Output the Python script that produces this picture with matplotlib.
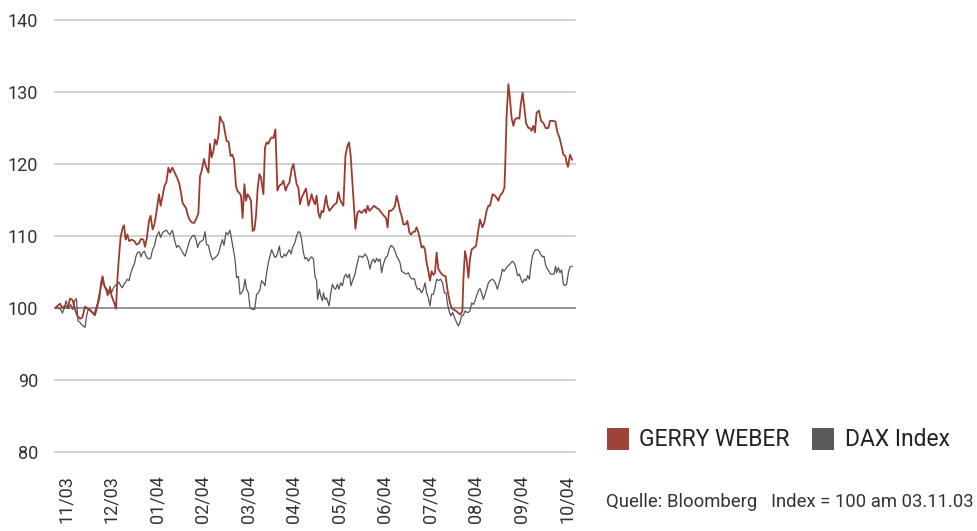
import matplotlib
matplotlib.use("Agg")
import matplotlib.pyplot as plt
from matplotlib.patches import Rectangle
import numpy as np

# ---- data (trading days since 03.11.03, index value) ----
gw_days = [0, 2.5, 3.7, 5, 6.3, 7.5, 8.8, 10, 11.2, 12.5, 13.7, 15, 16.2, 17.5, 18.8, 20, 21.2, 22.2, 23, 23.8,
           24.7, 25.8, 26.7, 27.5, 28.3, 29.5, 30.5, 31.2, 32, 32.8, 33.7, 34.5, 35.3, 36.2, 37, 38.3, 39.7, 40.8,
           42, 43, 44.2, 45, 45.8, 47, 47.8, 48.8, 49.7, 50.8, 52, 52.8, 53.8, 54.8, 55.7, 56.7, 57.5, 58.7, 60,
           61.2, 62.2, 63, 63.8, 64.7, 65.5, 66.3, 67.2, 68.3, 69.5, 70.5, 71.7, 72.5, 73.3, 74.5, 75.3, 76.7,
           77.5, 78.3, 79.2, 80, 80.8, 81.7, 82.5, 83.3, 84.2, 85, 85.8, 86.8, 87.8, 88.7, 89.5, 90.5, 91.3, 92.2,
           93, 93.8, 94.7, 95.5, 96.3, 97.2, 98, 98.8, 99.7, 100.5, 101.3, 102.2, 103, 104.2, 105, 105.8, 106.7,
           107.5, 108.3, 109.2, 110.2, 111.2, 112.2, 113.3, 114.2, 115.3, 116.2, 117.2, 118.3, 119.2, 120, 120.8,
           121.7, 122.5,
           123.3, 124.5, 125.5, 126.7, 127.5, 128.3, 129.2, 130, 130.8, 131.7, 132.5, 133.3, 134.2, 135.5, 136.3,
           137.2, 138.3, 139.5, 140.8, 141.7, 142.5, 143.3, 144.2, 145.2, 146.2, 147, 147.8, 148.7, 149.5, 150.2,
           151.2, 152.2, 153.3, 154.2, 155, 155.5, 156.3, 157.2, 158.3, 159.5, 160.8, 162, 163.3, 164.5, 165.5,
           166.3, 167, 168, 169.2, 170, 170.8, 171.7, 172.5, 173.3, 174.2, 175.3, 176.2, 177.2, 178, 179.2, 180,
           180.8, 181.7, 182.5, 183.3, 184.2, 185, 185.8, 186.7, 187.5, 188.3, 189.2, 190, 190.8, 191.7, 192.8,
           194.2, 195.3, 196.3, 197.5, 198.3, 199.2, 200.5, 201.7, 202.8, 203.7, 204.2, 205, 205.8, 206.7, 207.5,
           208.3, 209.5, 210.5, 211.7, 212.5, 213.7, 214.7, 215.8, 216.7, 217.5, 218.8, 220, 220.8, 221.7, 222.5,
           223.7, 224.7, 225.2, 225.8, 226.7, 227.5, 228.3, 229.2, 230, 231.2, 232.2, 232.8, 233.8, 234.7, 235.5,
           236.7, 237.5, 238.3, 239.2, 240, 240.8, 242, 243, 244.2, 245.3, 246.7, 247.5, 248.8, 250.2, 251.2,
           252.2, 253, 254.2, 255.2, 255.8, 256.5, 257.5, 258.5]
gw_vals = [100, 100.6, 100, 100.3, 100, 101.3, 101.1, 99.8, 98.9, 98.5, 98.7, 100.2, 99.9, 99.7, 99.3, 99.0, 100.3,
           101.4, 103.5, 104.4, 103.1, 102.6, 101.9, 102.7, 101.7, 100.8, 99.9, 104, 107.2, 109.8, 111, 111.5,
           109.5, 110.2, 109.3, 109.5, 109.3, 108.8, 109.0, 109.6, 109.5, 108.5, 109.5, 112.1, 112.8, 110.9, 111.6,
           113.5, 115.8, 114.2, 115.6, 117.0, 117.5, 119.5, 118.8, 119.5, 118.7, 118, 117.2, 116, 114.6, 114.2,
           113.9, 113, 112.3, 111.9, 111.8, 112.3, 113.2, 118.3, 119, 120.7, 119.8, 118.8, 122.8, 120.9, 121.8,
           123.4, 122.7, 123.9, 126.6, 126, 125.7, 124.4, 123.2, 123.1, 121.1, 121.3, 120.6, 116.9, 116.2, 116,
           115.6, 112.5, 117.2, 114.9, 115.8, 115.4, 114.9, 110.7, 110.9, 112.8, 116.5, 118.6, 118.1, 115.8, 122.3,
           123, 122.8, 123.4, 123.7, 123.6, 124.8, 116.3, 117, 117.2, 117.7, 116.3, 117, 117.4, 119.3, 120, 118.6,
           117.2, 116.7, 114.4,
           115.3, 116, 116.6, 114.2, 114.9, 115.8, 114.9, 114.4, 115.6, 113.2, 112.5, 113.5, 113.3, 115.6, 114.2,
           113.5, 113.9, 114.3, 114.6, 116.1, 115.1, 114.6, 114.2, 121.1, 122.5, 123, 121.3, 117.4, 113.7, 111,
           113.2, 113.5, 113.2, 113.5, 113.7, 113.2, 114.2, 113.5, 113.8, 114.2, 113.9, 113.7, 113.2, 112.8, 112.5,
           111.2, 113.5, 113.5, 113.8, 114.2, 115.6, 114.6, 113.5, 112.8, 111.6, 111.6, 112.1, 110.5, 110.2, 110.6,
           110.6, 111.2, 110.5, 109.5, 108.4, 108.6, 108.1, 106.3, 105.1, 103.8, 105.1, 104.6, 104.9, 107.7, 105.4,
           104.9, 104.5, 104.4, 102.4, 100.7, 100, 99.8, 99.6, 99.3, 99.1, 99.6, 104, 107.9, 106.8, 104.2, 106.8,
           108.1, 108.4, 108.6, 110.9, 112.3, 111.2, 111.9, 113.5, 114.2, 114.2, 115.8, 115.6, 115.3, 114.9, 115.6,
           116, 116.7, 120.6, 126.7, 131.1, 129, 126.4, 125.3, 126.2, 126.4, 126.3, 128.1, 129.9, 127.8, 125.7,
           125, 125, 124.6, 125.3, 124.4, 127.1, 127.4, 126, 125.7, 125, 125, 126, 126, 125.9, 124.4,
           123.7, 122.8, 121.3, 121.1, 120.2, 119.6, 121.3, 120.6]

dax_days = [0, 1.7, 2.8, 3.7, 4.7, 5.5, 6.7, 7.8, 8.8, 9.8, 10.7, 11.5, 12.5, 13.3, 14.2, 15, 15.8, 16.7, 17.5, 18.7,
            19.5, 20.5, 21.3, 22.2, 22.8, 23.7, 24.5, 25.5, 26.3, 27.5, 28.3, 29.2, 30, 31.2, 32, 32.8, 33.7, 34.5,
            35.3, 36.2, 37, 38, 38.8, 39.7, 40.5, 41.3, 42.2, 43, 43.8, 44.7, 45.5, 46.7, 47.8, 48.8, 49.7, 50.8,
            52, 52.8, 53.8, 55, 55.8, 56.7, 57.5, 58.7, 59.7, 60.8, 61.7, 62.5, 63.8, 65, 65.8, 66.7, 67.5, 68.7,
            69.7, 70.5, 71.3, 72.2, 73.3, 74.2, 75, 75.8, 76.7, 77.5, 78.7, 79.7, 80.8, 81.7, 82.5, 83.7, 84.5,
            85.5, 86.5, 87.5, 88.3, 89.2, 90, 90.8, 91.7, 92.5, 93.3, 94.2, 95, 95.8, 96.7, 97.5, 98.7, 99.8, 100.8,
            101.7, 102.5, 103.3, 104.2, 105, 105.8, 106.7, 107.5, 108.3, 109.2, 110, 110.8, 112.2, 112.8, 113.8,
            114.7, 115.5, 116.3, 117.2, 118, 118.8, 120, 120.8, 121.7, 122.5,
            123.3, 124.2, 125, 125.8, 126.7, 127.5, 128.3, 129.2, 130, 130.8, 131.3, 132.2, 132.8, 133.7, 134.2,
            135, 135.8, 137, 137.8, 138.7, 139.5, 140.3, 141.2, 142, 142.8, 143.7, 144.7, 145.5, 146.3, 147.2, 148,
            148.8, 150, 150.8, 152, 152.8, 153.8, 155, 155.8, 156.7, 157.5, 158.3, 159.2, 160, 160.8, 161.7, 162.5,
            163.3, 164.2, 165.3, 166.2, 167, 168, 169.2, 170, 170.8, 171.7, 172.5, 173.3, 174.5, 175.5, 176.7,
            177.8, 178.7, 179.7, 180.5, 181.3, 182.2, 183.3, 184.2, 185, 185.8, 186.7, 187.5, 188.3, 189.2, 190,
            190.8, 191.7, 192.8, 193.8, 194.7, 195.5, 196.3, 197.2, 198, 198.8, 199.7, 200.8, 201.7, 202.5, 203.3,
            204.2, 205, 205.8, 206.7, 207.5, 208.3, 209.2, 210, 210.8, 211.7, 212.5, 213.3, 214.2, 215, 215.8,
            216.7, 217.5, 218.7, 219.5, 220.3, 221.2, 222, 222.8, 223.7, 224.5, 225.5, 226.3, 227.2, 228, 228.8,
            229.7, 230.5, 231.3, 232.2, 233, 233.8, 234.7, 235.5, 236.3, 237.2, 237.8, 238.7, 239.5, 240.3, 241.2,
            242, 242.8, 243.7, 244.5, 245.3, 246.2, 247, 247.8, 248.7, 249.5, 250.3, 250.8, 251.7, 252.5, 253.3,
            254.2, 255, 255.8, 256.7, 257.5, 258.5]
dax_vals = [100, 100, 99.8, 99.3, 100, 101, 99.9, 100.5, 99.8, 101, 101.3, 98.2, 98, 97.7, 97.5, 97.3, 98.9, 99.9,
            99.8, 99.4, 99.1, 100, 100.7, 102.1, 102.6, 103.8, 103.1, 102.5, 101.7, 103, 102.1, 102.8, 103.1, 103.3,
            103.6, 103.1, 102.8, 103.3, 103.6, 104, 103.8, 104.9, 105.6, 106.1, 107.2, 107.7, 107.8, 107.1, 107.7,
            107.9, 107.2, 106.8, 106.9, 108.1, 108.6, 110, 110.6, 109.8, 110.5, 110.7, 110.8, 110.4, 110.2, 110.8,
            109.5, 108.4, 108.7, 108.4, 107.7, 107.2, 107.9, 108.8, 109.5, 110, 110.1, 109.5, 108.4, 109.1, 109.3,
            109.5, 110.6, 108.8, 108.7, 107.7, 106.7, 106.9, 107.2, 107.5, 108.4, 109.5, 108.7, 110.5, 110.2,
            110.8, 109.5, 108.1, 106.8, 104.2, 104.4, 101.9, 102.1, 102.6, 104, 102.6, 102.1, 100, 99.8, 99.8,
            101.9, 102.1, 102.6, 103.8, 103.5, 103.1, 104.9, 106.3, 107.2, 108.1, 107.5, 107, 107.2, 108.6, 107.2,
            107, 107.5, 107.2, 107.7, 108.1, 107.5, 108.4, 109.1, 110, 110.6, 110.5,
            109.5, 107.7, 106.8, 107, 106.5, 106.9, 107.1, 106.8, 104.4, 103.8, 101.2, 102.6, 101.7, 101, 102.1,
            101.2, 101.4, 100.3, 101.9, 103.3, 102.8, 102.6, 103.3, 102.6, 103.5, 103.1, 104.4, 104.7, 104.2, 104.7,
            103.1, 103.8, 104.7, 105.8, 107.2, 107.2, 107, 107.5, 107.2, 106.5, 105.4, 106.4, 106.8, 106.3, 106.9,
            106.5, 106.8, 104.9, 106.1, 107, 107.2, 108.1, 108.7, 108.4, 107.9, 107.2, 106.8, 106.3, 105.1, 104.9,
            104.7, 104.9, 104.2, 104, 104.1, 103.1, 102.6, 102.7, 102.1, 102.6, 103.5, 102.1, 101.4, 100.3, 101.9,
            101.9, 102.8, 104, 103.8, 104, 103.5, 102.1, 102.1, 100.5, 99.4, 98.9, 99.4, 98.7, 98, 97.5, 98, 98.9,
            99, 99.6, 99.4, 99.4, 99.6, 100.7, 100.5, 101, 101.7, 102.4, 102.7, 102.1, 101.2, 101.9, 102.6, 103.5,
            103.8, 104, 103.8, 103.4, 102.6, 103.4, 104.2, 105.4, 105.1, 105.5, 105.8, 106, 106.3, 106.5, 106.2,
            105.5, 104.5, 104.7, 104, 103.5, 104, 103.8, 104.5, 104, 105.6, 107.2, 107.8, 108.1, 108.1, 107.9,
            107.5, 107.1, 107.2, 106, 105.4, 105.1, 104.7, 104.7, 104.7, 105.8, 104.9, 105.6, 104.9, 105.3, 103.3,
            103.1, 103.3, 104.9, 105.7, 105.8]

month_labels = ["11/03", "12/03", "01/04", "02/04", "03/04", "04/04", "05/04", "06/04",
                "07/04", "08/04", "09/04", "10/04"]
month_days = [5.5, 28.2, 51, 73.8, 96.5, 119.2, 142, 164.8, 187.5, 210.2, 233, 255.8]
y_ticks = [80, 90, 100, 110, 120, 130, 140]

series_names = ["GERRY WEBER", "DAX Index"]
RED = "#9c3a2e"
GRAY = "#555555"

plt.rcParams['font.family'] = ['Roboto', 'DejaVu Sans']

fig = plt.figure(figsize=(9.77, 5.31), dpi=100)
W, H = 977, 531
ax = fig.add_axes([55 / W, 1 - 452 / H, (575 - 55) / W, (452 - 20) / H])
ax.set_xlim(0, 260)
ax.set_ylim(80, 140)

for yv in y_ticks:
    col = "#8c8c8c" if yv == 100 else "#cccccc"
    ax.axhline(yv, color=col, lw=1.3, zorder=1, clip_on=False)

ax.plot(dax_days, dax_vals, color=GRAY, lw=0.9, zorder=3)
ax.plot(gw_days, gw_vals, color=RED, lw=1.3, zorder=4)

for s in ax.spines.values():
    s.set_visible(False)
ax.set_yticks(y_ticks)
ax.set_yticklabels([str(v) for v in y_ticks], fontsize=13, color="#333333")
ax.tick_params(axis='y', length=0, pad=12)
ax.set_xticks(month_days)
ax.set_xticklabels(month_labels, rotation=90, fontsize=13, color="#333333", va='top')
ax.tick_params(axis='x', length=0, pad=17)

# legend
fig.patches.append(Rectangle((607 / W, 1 - 450 / H), 22 / W, 22 / H, transform=fig.transFigure,
                             facecolor="#9e4338", edgecolor="none"))
fig.text(639 / W, 1 - 439 / H, series_names[0], fontsize=16.5, color="#222222", va='center', ha='left')
fig.patches.append(Rectangle((812 / W, 1 - 450 / H), 22 / W, 22 / H, transform=fig.transFigure,
                             facecolor="#5a5a5a", edgecolor="none"))
fig.text(845 / W, 1 - 439 / H, series_names[1], fontsize=16.5, color="#222222", va='center', ha='left')
fig.text(606 / W, 1 - 502 / H, "Quelle: Bloomberg   Index = 100 am 03.11.03", fontsize=13.3,
         color="#333333", va='center', ha='left')

fig.savefig("out.png", dpi=100)
